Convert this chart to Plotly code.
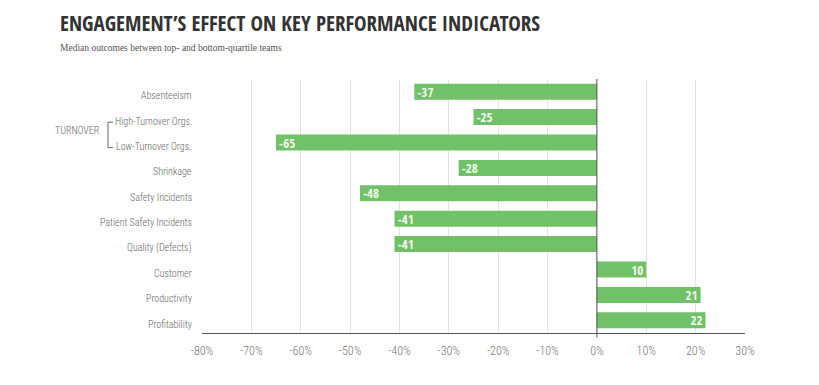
import plotly.graph_objects as go

categories = ["Absenteeism", "High-Turnover Orgs.", "Low-Turnover Orgs.", "Shrinkage",
              "Safety Incidents", "Patient Safety Incidents", "Quality (Defects)",
              "Customer", "Productivity", "Profitability"]
values = [-37, -25, -65, -28, -48, -41, -41, 10, 21, 22]
x_ticks = [-80, -70, -60, -50, -40, -30, -20, -10, 0, 10, 20, 30]
x_tick_labels = [f"{t}%" for t in x_ticks]

GREEN = "#70C167"
COND = "Roboto Condensed"
TITLE_FONT = "Open Sans Condensed"

fig = go.Figure()
fig.add_trace(go.Bar(
    y=categories, x=values, orientation="h",
    marker=dict(color=GREEN, line=dict(width=0)),
    text=[str(v) for v in values], textposition="inside", insidetextanchor="end",
    constraintext="none",
    textfont=dict(family=TITLE_FONT, size=13, color="#F0F9EC", weight="bold"),
    textangle=0, cliponaxis=False, hoverinfo="skip",
))

annotations = []
for c in categories:
    annotations.append(dict(
        x=0, xref="paper", xanchor="right", xshift=-8,
        y=c, yref="y", yshift=-4, yanchor="middle",
        text=c, showarrow=False,
        font=dict(family=COND, size=10, color="#666666", weight=300),
    ))
annotations.append(dict(
    x=0, xref="paper", xanchor="right", xshift=-100,
    y=1.5, yref="y", yshift=-1, text="TURNOVER", showarrow=False,
    font=dict(family=COND, size=10, color="#666666", weight=300),
))
annotations.append(dict(
    x=0.0, y=1.0, xref="paper", yref="paper", xanchor="left", yanchor="bottom",
    xshift=-144, yshift=40,
    text="ENGAGEMENT’S EFFECT ON KEY PERFORMANCE INDICATORS", showarrow=False,
    font=dict(family=TITLE_FONT, size=21, color="#333333", weight="bold"),
))
annotations.append(dict(
    x=0.0, y=1.0, xref="paper", yref="paper", xanchor="left", yanchor="bottom",
    xshift=-144, yshift=24,
    text="Median outcomes between top- and bottom-quartile teams", showarrow=False,
    font=dict(family="Liberation Serif", size=9.5, color="#555555"),
))

BX0, BX1 = -0.1731, -0.1639
shapes = [
    # bracket for TURNOVER
    dict(type="line", xref="paper", yref="y", x0=BX0, x1=BX0, y0=1.2, y1=2.2,
         line=dict(color="#666666", width=1)),
    dict(type="line", xref="paper", yref="y", x0=BX0, x1=BX1, y0=1.2, y1=1.2,
         line=dict(color="#666666", width=1)),
    dict(type="line", xref="paper", yref="y", x0=BX0, x1=BX1, y0=2.2, y1=2.2,
         line=dict(color="#666666", width=1)),
    # zero line extending below axis
    dict(type="line", xref="x", yref="paper", x0=0, x1=0, y0=-0.018, y1=1,
         line=dict(color="#555555", width=1), layer="above"),
]

fig.update_layout(
    width=811, height=377,
    margin=dict(l=194, r=74, t=71, b=52),
    paper_bgcolor="white", plot_bgcolor="white",
    showlegend=False, bargap=0.37,
    annotations=annotations, shapes=shapes,
    xaxis=dict(range=[-80, 30], tickvals=x_ticks, ticktext=x_tick_labels,
               showgrid=True, gridcolor="#E3E3E3", gridwidth=1,
               zeroline=False, showline=True, linecolor="#555555", linewidth=1,
               ticks="", ticklabelstandoff=7,
               tickfont=dict(family=COND, size=12, color="#777777", weight=300)),
    yaxis=dict(categoryorder="array", categoryarray=categories, autorange="reversed",
               showticklabels=False, showgrid=False, zeroline=False, ticks=""),
)

fig.write_html("out.html")
